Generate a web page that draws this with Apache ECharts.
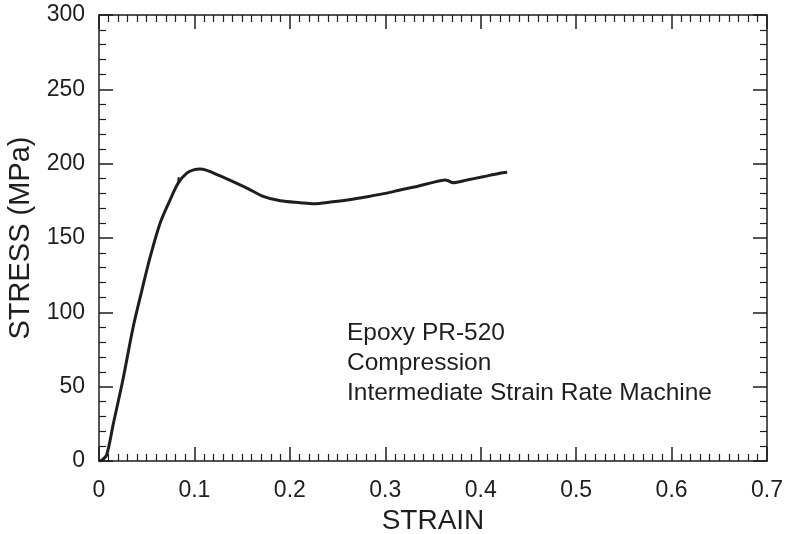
<!DOCTYPE html>
<html>
<head>
<meta charset="utf-8">
<script src="https://cdn.jsdelivr.net/npm/echarts@6/dist/echarts.min.js"></script>
<style>html,body{margin:0;padding:0;background:#fff}#c{width:787px;height:534px}</style>
</head>
<body>
<div id="c"></div>
<script>
var strain = [0, 0.003, 0.008, 0.015, 0.025, 0.0356, 0.045, 0.0535, 0.064, 0.0744, 0.083, 0.092, 0.1, 0.106, 0.113, 0.12, 0.137, 0.155, 0.172, 0.19, 0.211, 0.225, 0.245, 0.262, 0.281, 0.3, 0.3155, 0.335, 0.35, 0.3627, 0.366, 0.371, 0.3857, 0.4025, 0.42, 0.4277];
var stress = [0, 0.5, 4, 25, 54.5, 89.5, 115, 137, 160, 175.5, 187, 193.7, 196, 196.4, 195.5, 193.7, 189, 183.6, 178, 175, 173.7, 173, 174.4, 175.8, 177.8, 180, 182.3, 185, 187.4, 189, 188.5, 187.2, 189, 191.2, 193.5, 194.2];
var hookStrain = [0.0835, 0.0828];
var hookStress = [191, 185.5];
var xTicks = [0, 0.1, 0.2, 0.3, 0.4, 0.5, 0.6, 0.7];
var yTicks = [0, 50, 100, 150, 200, 250, 300];
var annotation = ['Epoxy PR-520', 'Compression', 'Intermediate Strain Rate Machine'];

var FONT = 'Liberation Sans, Arial, sans-serif';
var INK = '#1e1e1e';
function pairs(a, b) { return a.map(function (v, i) { return [v, b[i]]; }); }

function mk(extra) {
  return Object.assign({
    axisLine: { show: true, onZero: false, lineStyle: { color: INK, width: 1.5 } },
    splitLine: { show: false },
    axisTick: { show: true, inside: true, length: 14, lineStyle: { color: INK, width: 1.5 } }
  }, extra);
}

var chart = echarts.init(document.getElementById('c'), null, { renderer: 'canvas' });
chart.setOption({
  animation: false,
  backgroundColor: '#fff',
  grid: { left: 99, right: 20, top: 15, bottom: 73, containLabel: false, outerBoundsMode: 'none' },
  xAxis: [
    mk({
      type: 'value', min: xTicks[0], max: xTicks[xTicks.length - 1], interval: 0.1,
      position: 'bottom',
      name: 'STRAIN', nameLocation: 'middle', nameGap: 46,
      nameTextStyle: { fontFamily: FONT, fontSize: 28, color: INK },
      minorTick: { show: true, splitNumber: 10, length: 7, lineStyle: { color: INK, width: 1.2 } },
      axisLabel: { fontFamily: FONT, fontSize: 23, color: INK, margin: 18,
        formatter: function (v) { return String(+v.toFixed(1)); } }
    }),
    mk({
      type: 'value', min: xTicks[0], max: xTicks[xTicks.length - 1], interval: 0.1,
      position: 'top',
      minorTick: { show: true, splitNumber: 10, length: 7, lineStyle: { color: INK, width: 1.2 } },
      axisLabel: { show: false }
    })
  ],
  yAxis: [
    mk({
      type: 'value', min: yTicks[0], max: yTicks[yTicks.length - 1], interval: 50,
      position: 'left',
      name: 'STRESS (MPa)', nameLocation: 'middle', nameGap: 64,
      nameTextStyle: { fontFamily: FONT, fontSize: 29, color: INK },
      minorTick: { show: true, splitNumber: 5, length: 7, lineStyle: { color: INK, width: 1.2 } },
      axisLabel: { fontFamily: FONT, fontSize: 23, color: INK, margin: 14 }
    }),
    mk({
      type: 'value', min: yTicks[0], max: yTicks[yTicks.length - 1], interval: 50,
      position: 'right',
      minorTick: { show: true, splitNumber: 5, length: 7, lineStyle: { color: INK, width: 1.2 } },
      axisLabel: { show: false }
    })
  ],
  series: [
    { type: 'line', xAxisIndex: 0, yAxisIndex: 0, data: pairs(strain, stress), showSymbol: false, smooth: 0.3,
      lineStyle: { color: INK, width: 3 } },
    { type: 'line', xAxisIndex: 0, yAxisIndex: 0, data: pairs(hookStrain, hookStress), showSymbol: false,
      lineStyle: { color: INK, width: 2 } }
  ],
  graphic: [{
    type: 'text', left: 347, top: 318,
    style: { text: annotation.join('\n'), fontFamily: FONT, fontSize: 24.5, lineHeight: 30, fill: INK }
  }]
});
</script>
</body>
</html>
